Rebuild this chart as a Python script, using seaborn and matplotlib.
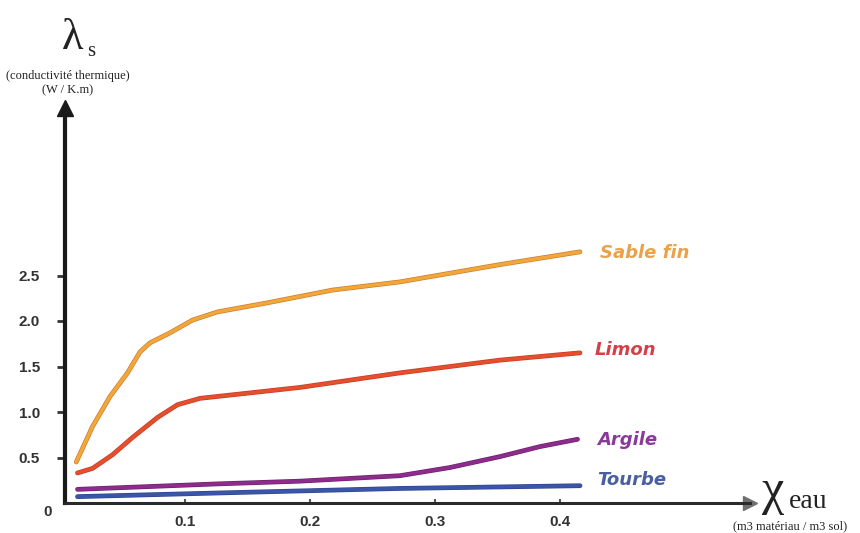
import matplotlib
matplotlib.use("Agg")
import matplotlib.pyplot as plt
import matplotlib.patheffects as pe
import seaborn as sns
import pandas as pd

# Water content (m3 water / m3 soil) and thermal conductivity (W/K.m) per soil type
sable_x = [0.013, 0.026, 0.040, 0.054, 0.064, 0.072, 0.088, 0.106, 0.126, 0.166, 0.218, 0.272, 0.352, 0.416]
sable_y = [0.45, 0.84, 1.17, 1.43, 1.66, 1.76, 1.87, 2.01, 2.10, 2.20, 2.34, 2.43, 2.62, 2.76]

limon_x = [0.014, 0.026, 0.042, 0.058, 0.078, 0.094, 0.112, 0.192, 0.272, 0.352, 0.416]
limon_y = [0.33, 0.38, 0.53, 0.72, 0.94, 1.08, 1.15, 1.27, 1.43, 1.57, 1.65]

argile_x = [0.014, 0.126, 0.192, 0.272, 0.312, 0.352, 0.384, 0.414]
argile_y = [0.15, 0.21, 0.24, 0.30, 0.39, 0.51, 0.62, 0.70]

tourbe_x = [0.014, 0.126, 0.272, 0.416]
tourbe_y = [0.07, 0.11, 0.16, 0.19]

soil_names = ["Sable fin", "Limon", "Argile", "Tourbe"]
line_colors = ["#f0a83a", "#e4502c", "#8e2c8c", "#3b55a8"]
edge_colors = ["#d27a2c", "#c83a28", "#6e1f70", "#2e4590"]
text_colors = ["#eaa24a", "#d2404a", "#8a3a98", "#4a5fa0"]

x_ticks = [0.1, 0.2, 0.3, 0.4]
y_ticks = [0.5, 1.0, 1.5, 2.0, 2.5]

series = [(sable_x, sable_y), (limon_x, limon_y), (argile_x, argile_y), (tourbe_x, tourbe_y)]
frames = [pd.DataFrame({"eau": xs, "lambda": ys, "sol": name})
          for (xs, ys), name in zip(series, soil_names)]
data = pd.concat(frames, ignore_index=True)

sns.set_theme(style="white")
plt.rcParams["font.family"] = ["Liberation Sans", "DejaVu Sans"]

W, H = 860, 533
fig = plt.figure(figsize=(8.6, 5.33), dpi=100)
ax = fig.add_axes([65 / W, 30 / H, (750 - 65) / W, (503 - 108) / H])

for name, col, edge in zip(soil_names, line_colors, edge_colors):
    sub = data[data["sol"] == name]
    sns.lineplot(data=sub, x="eau", y="lambda", ax=ax, color=col, linewidth=2.4,
                 sort=False, estimator=None,
                 path_effects=[pe.Stroke(linewidth=3.4, foreground=edge, joinstyle="round"),
                               pe.Normal()])
for ln in ax.get_lines():
    ln.set_solid_joinstyle("round")
    ln.set_solid_capstyle("round")

ax.set_xlim(0.004, 0.552)
ax.set_ylim(0, (503 - 108) / 91)
ax.set_xlabel("")
ax.set_ylabel("")

# Axes with arrowheads
for side in ["top", "right"]:
    ax.spines[side].set_visible(False)
ax.spines["left"].set_color("#1a1a1a")
ax.spines["left"].set_linewidth(3.0)
ax.spines["bottom"].set_color("#2a2a2a")
ax.spines["bottom"].set_linewidth(2.2)
ax.plot(0, 1, marker="^", color="#1a1a1a", markersize=11, transform=ax.transAxes, clip_on=False)
ax.plot(1, 0, marker=">", color="#707070", markersize=10, transform=ax.transAxes, clip_on=False)

ax.set_xticks(x_ticks)
ax.set_xticklabels([f"{v:.1f}" for v in x_ticks], fontsize=11, fontweight="bold", color="#333333")
ax.set_yticks(y_ticks)
ax.set_yticklabels([f"{v:.1f}" for v in y_ticks], fontsize=11, fontweight="bold", color="#333333")
ax.tick_params(axis="y", direction="out", length=6, width=2, color="#333333", pad=12, left=True)
ax.tick_params(axis="x", direction="in", length=3, width=1.5, color="#555555", pad=9, bottom=True)

ax.text(48 / W, 1 - 512 / H, "0", transform=fig.transFigure, fontsize=11, fontweight="bold",
        color="#333333", ha="center", va="center")

# Curve labels
label_x = [0.432, 0.428, 0.430, 0.430]
label_y = [2.75, 1.68, 0.69, 0.25]
for name, xv, yv, tc in zip(soil_names, label_x, label_y, text_colors):
    ax.text(xv, yv, name, fontsize=13, fontweight="bold", fontstyle="italic",
            family=["DejaVu Sans"], color=tc, ha="left", va="center")

# Axis titles
serif = ["Liberation Serif", "DejaVu Serif"]
ink = "#222222"
fig.text(73 / W, 1 - 38 / H, "λ", fontsize=32, family=serif, ha="center", va="center", color=ink)
fig.text(91 / W, 1 - 51 / H, "s", fontsize=15, family=serif, ha="center", va="center", color=ink)
fig.text(68 / W, 1 - 76 / H, "(conductivité thermique)", fontsize=9, family=serif,
         ha="center", va="center", color=ink)
fig.text(68 / W, 1 - 90 / H, "(W / K.m)", fontsize=9, family=serif,
         ha="center", va="center", color=ink)

fig.text(773 / W, 1 - 504 / H, "χ", fontsize=36, family=serif, ha="center", va="baseline",
         color=ink)
fig.text(789 / W, 1 - 508 / H, "eau", fontsize=20, family=serif, ha="left", va="baseline",
         color=ink)
fig.text(790 / W, 1 - 526 / H, "(m3 matériau / m3 sol)", fontsize=9, family=serif,
         ha="center", va="center", color=ink)

fig.savefig("out.png", dpi=100, facecolor="white")
